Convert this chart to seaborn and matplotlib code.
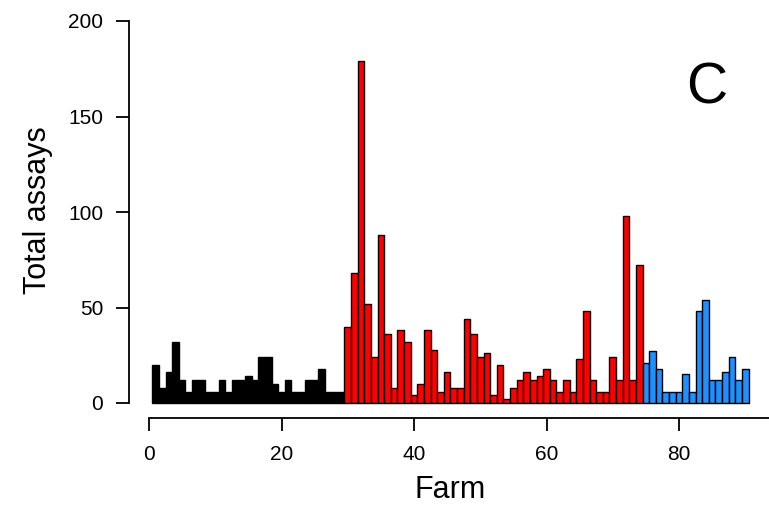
import matplotlib
matplotlib.use("Agg")
import matplotlib.pyplot as plt
import seaborn as sns
import pandas as pd
import numpy as np

# ---- data ----
black_values = [20, 8, 16, 32, 12, 6, 12, 12, 6, 6, 12, 6, 12, 12, 14, 12, 24, 24, 10, 6,
                12, 6, 6, 12, 12, 18, 6, 6, 6]
red_values = [40, 68, 179, 52, 24, 88, 36, 8, 38, 32, 4, 10, 38, 28, 6, 16, 8, 8, 44, 36,
              24, 26, 4, 20, 2, 8, 12, 16, 12, 14, 18, 12, 6, 12, 6, 23, 48, 12, 6, 6,
              24, 12, 98, 12, 72]
blue_values = [21, 27, 18, 6, 6, 6, 15, 6, 48, 54, 12, 12, 16, 24, 12, 18]
group_names = ["black", "red", "blue"]
group_colors = {"black": "#000000", "red": "#FF0000", "blue": "#1E90FF"}
x_ticks = [0, 20, 40, 60, 80]
y_ticks = [0, 50, 100, 150, 200]

values = black_values + red_values + blue_values
groups = (["black"] * len(black_values) + ["red"] * len(red_values)
          + ["blue"] * len(blue_values))
df = pd.DataFrame({"farm": np.arange(1, len(values) + 1), "assays": values, "group": groups})

sns.set_style("white")
plt.rcParams["font.family"] = ["Liberation Sans", "DejaVu Sans"]
plt.rcParams["text.color"] = "black"
plt.rcParams["axes.labelcolor"] = "black"
plt.rcParams["xtick.color"] = "black"
plt.rcParams["ytick.color"] = "black"

W, H = 769, 508
fig = plt.figure(figsize=(W / 100, H / 100), dpi=100)
ax = fig.add_axes([129 / W, 1 - 418 / H, 1 - 129 / W, (418 - 21) / H])

sns.barplot(data=df, x="farm", y="assays", hue="group", palette=group_colors,
            hue_order=group_names, dodge=False, native_scale=True, width=1.0,
            saturation=1, edgecolor="black", linewidth=1.0, legend=False, ax=ax)

px_per_x = (679 - 149) / 80
xlo = (129 - 149) / px_per_x
xhi = (W - 149) / px_per_x
px_per_y = (403 - 21) / 200
ylo = -(418 - 403) / px_per_y
ax.set_xlim(xlo, xhi)
ax.set_ylim(ylo, 200)

for s in ["top", "right"]:
    ax.spines[s].set_visible(False)
ax.spines["left"].set_bounds(0, 200)
ax.spines["bottom"].set_bounds(0, xhi)
for s in ["left", "bottom"]:
    ax.spines[s].set_linewidth(1.3)
    ax.spines[s].set_color("black")

ax.set_xticks(x_ticks)
ax.set_xticklabels([str(t) for t in x_ticks])
ax.set_yticks(y_ticks)
ax.set_yticklabels([str(t) for t in y_ticks])
ax.tick_params(axis="both", direction="out", length=9.5, width=1.3, color="black",
               labelcolor="black", labelsize=15, bottom=True, left=True)
ax.tick_params(axis="x", pad=10)
ax.tick_params(axis="y", pad=9)

ax.set_xlabel("Farm", fontsize=22, color="black")
ax.xaxis.set_label_coords((450 - 129) / (W - 129), -(490 - 418) / (418 - 21))
ax.xaxis.label.set_va("center")
ax.set_ylabel("Total assays", fontsize=22, color="black")
ax.yaxis.set_label_coords(-(129 - 38) / (W - 129), (418 - 210) / (418 - 21))
ax.yaxis.label.set_va("center")

fig.text(707 / W, 1 - 88 / H, "C", fontsize=41, ha="center", va="center", color="black")

fig.savefig("out.png", dpi=100)
